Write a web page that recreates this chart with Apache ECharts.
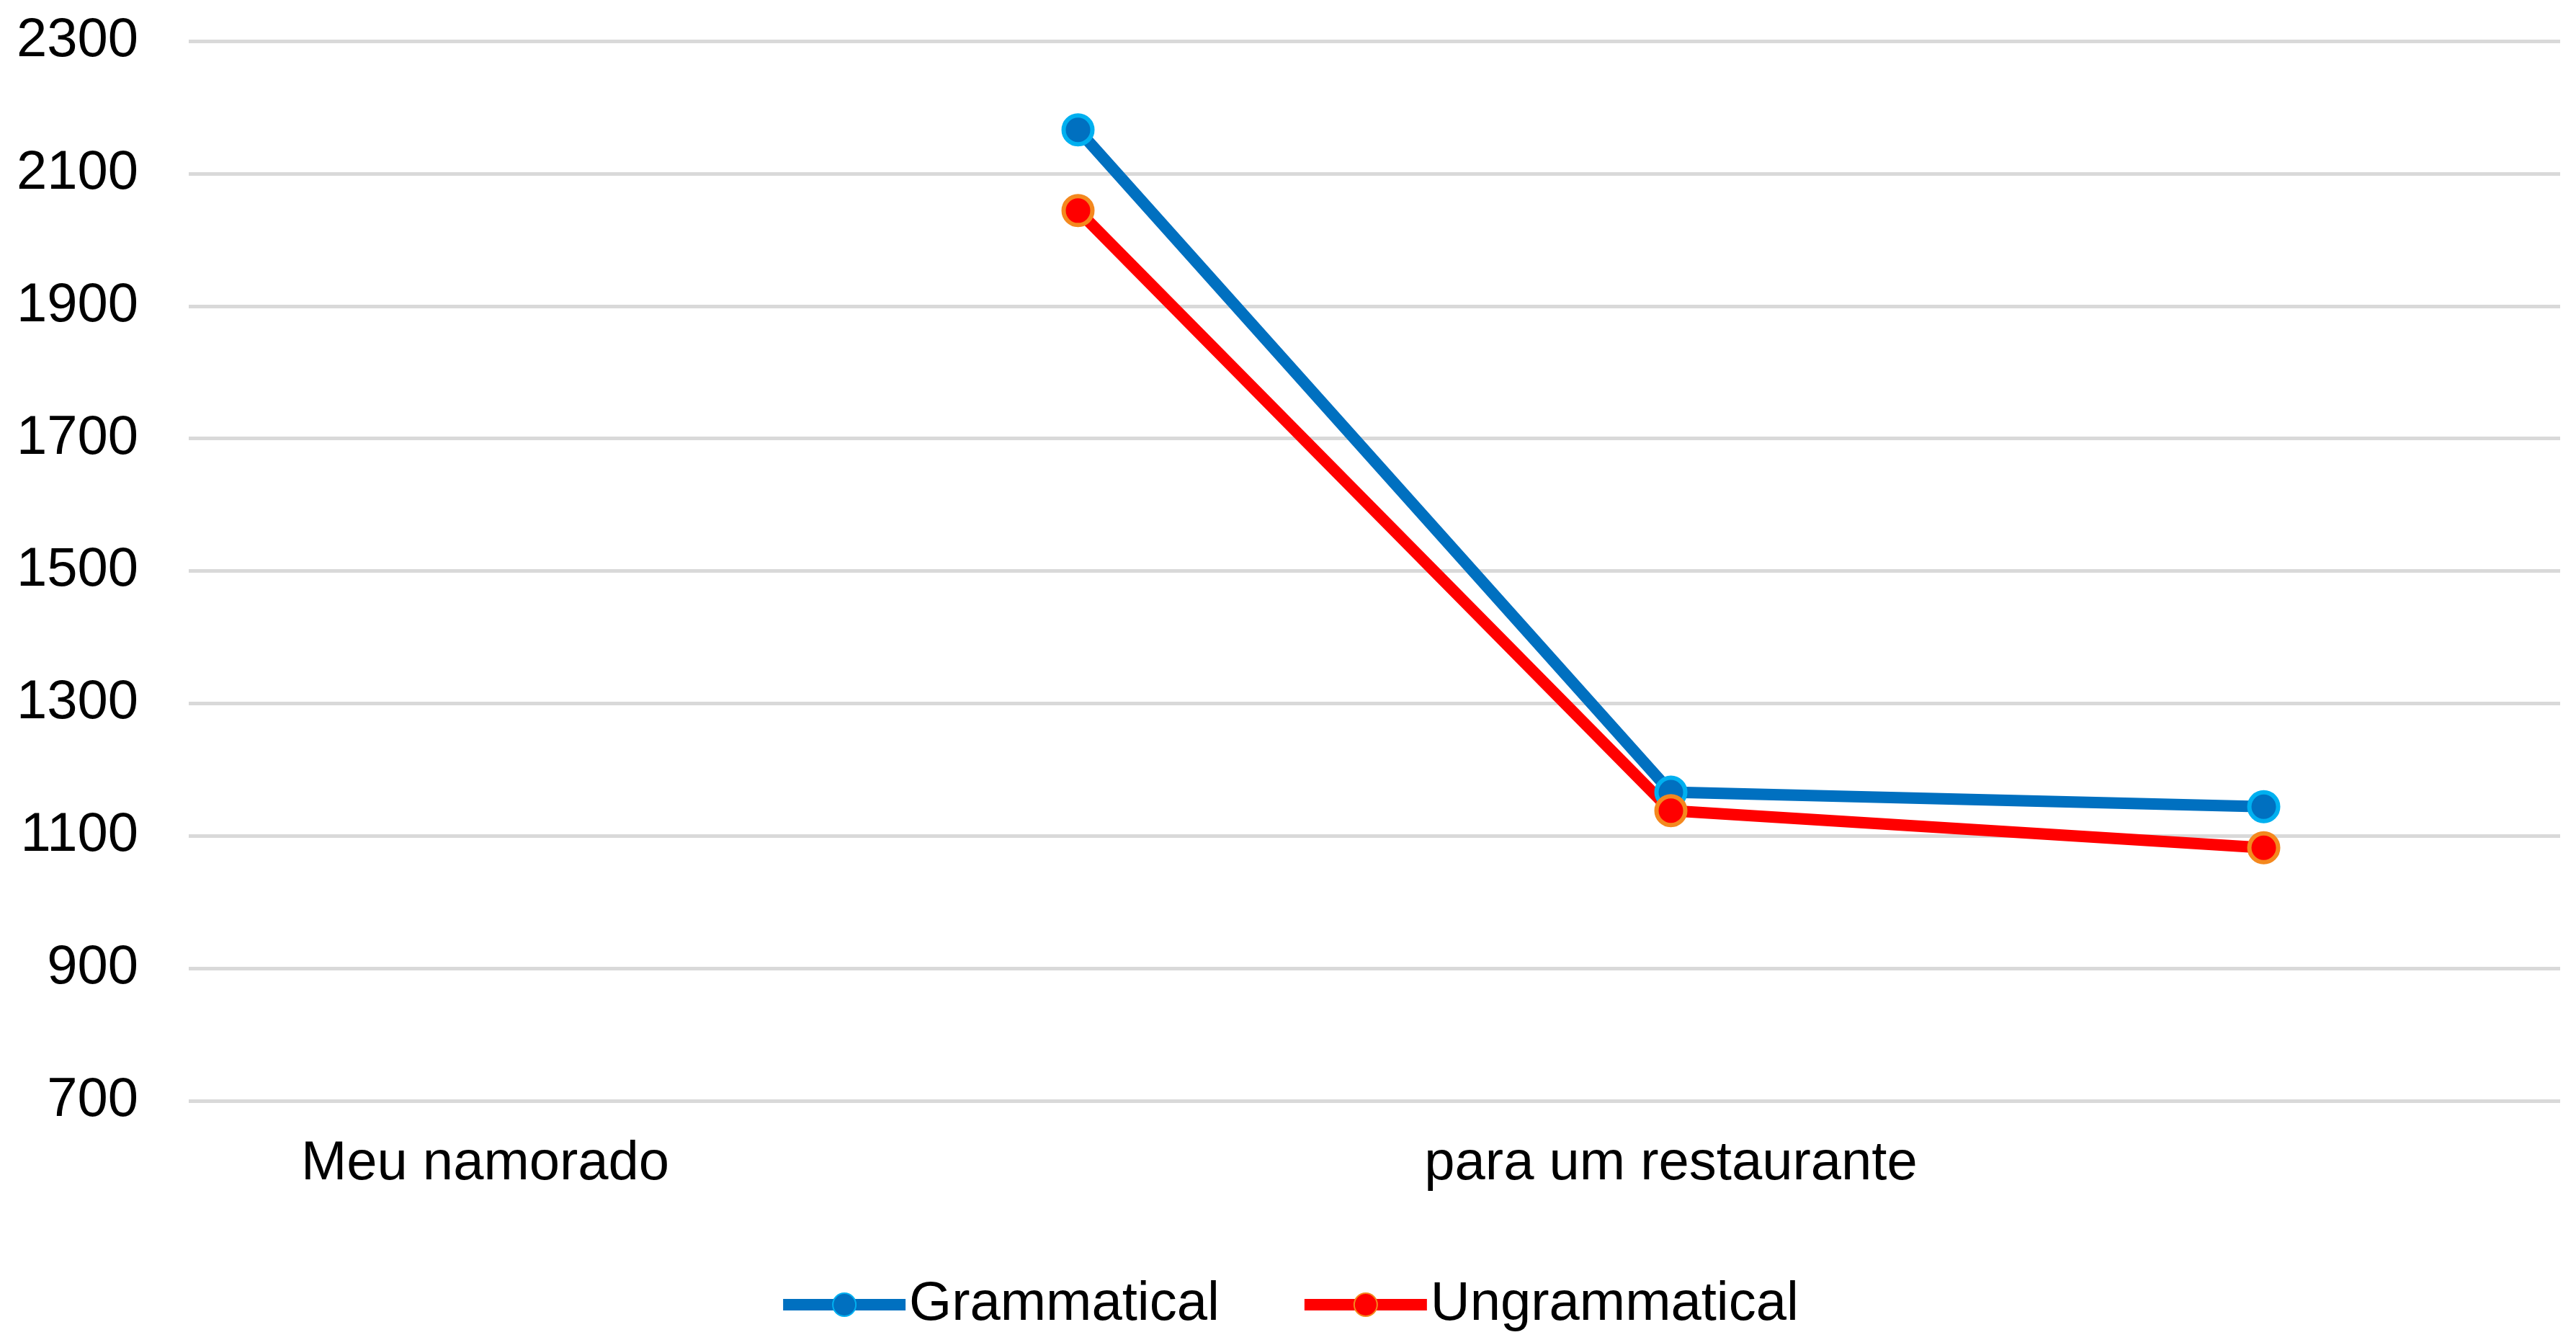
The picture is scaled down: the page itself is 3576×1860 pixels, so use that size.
<!DOCTYPE html>
<html><head><meta charset="utf-8">
<script src="https://cdn.jsdelivr.net/npm/echarts@6/dist/echarts.min.js"></script>
<style>html,body{margin:0;background:#fff}#c{width:3576px;height:1860px}</style>
</head><body><div id="c"></div>
<script>
const categories = ['Meu namorado','não me levou','para um restaurante','essa semana'];
const grammatical = [null, 2166, 1166, 1144];
const ungrammatical = [null, 2044, 1138, 1082];
const font = 'Liberation Sans';
const chart = echarts.init(document.getElementById('c'));
chart.setOption({
  animation:false,
  textStyle:{fontFamily:font},
  grid:{left:262,right:22,top:57,bottom:332},
  legend:{bottom:6,itemWidth:170,itemHeight:40,itemGap:110,
    lineStyle:{width:16},
    textStyle:{fontSize:76,color:'#000',fontFamily:font}},
  xAxis:{type:'category',data:categories,boundaryGap:true,
    axisLine:{show:false},axisTick:{show:false},
    axisLabel:{fontSize:76,color:'#000',margin:50}},
  yAxis:{type:'value',min:700,max:2300,interval:200,
    axisLine:{show:false},axisTick:{show:false},
    axisLabel:{fontSize:76,color:'#000',margin:70,formatter:v=>String(v)},
    splitLine:{lineStyle:{color:'#d9d9d9',width:5}}},
  series:[
    {name:'Grammatical',type:'line',data:grammatical,symbol:'circle',symbolSize:40,
     lineStyle:{color:'#0070C0',width:16},
     itemStyle:{color:'#0070C0',borderColor:'#00B0F0',borderWidth:6}},
    {name:'Ungrammatical',type:'line',data:ungrammatical,symbol:'circle',symbolSize:40,
     lineStyle:{color:'#FF0000',width:16},
     itemStyle:{color:'#FF0000',borderColor:'#F4881E',borderWidth:6}}
  ]
});
</script></body></html>
